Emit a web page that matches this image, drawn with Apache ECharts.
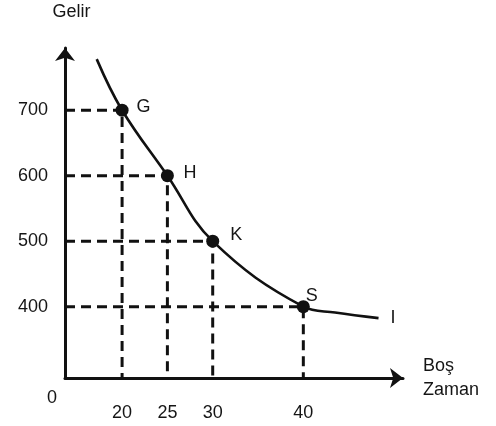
<!DOCTYPE html>
<html>
<head>
<meta charset="utf-8">
<style>
  html, body { margin: 0; padding: 0; background: #fff; }
  #chart { width: 496px; height: 426px; }
</style>
<script src="https://cdn.jsdelivr.net/npm/echarts@6/dist/echarts.min.js"></script>
</head>
<body>
<div id="chart"></div>
<script>
// ---- data ----
const xTickValues = [20, 25, 30, 40];
const yTickValues = [400, 500, 600, 700];
const pointNames = ['G', 'H', 'K', 'S'];
const pointX = [20, 25, 30, 40];
const pointY = [700, 600, 500, 400];
// indifference curve I
const curveX = [17.2, 20, 25, 30, 40, 43.5, 48.3];
const curveY = [778, 700, 600, 500, 400, 391, 382.5];
const curveName = 'I';
const xAxisName = 'Boş\nZaman';
const yAxisName = 'Gelir';
const originLabel = '0';

// ---- axis extents (schematic axes) ----
const X_MIN = 13.7, X_MAX = 51;
const Y_MIN = 291, Y_MAX = 795;

const FONT = 'Liberation Sans, Arial, Helvetica, sans-serif';
const INK = '#111';
const TEXT = '#151515';
const FS = 18;

const chart = echarts.init(document.getElementById('chart'), null, { renderer: 'canvas' });

// label placements relative to the marker box (style only)
const labelPlacements = [[22, -3], [23, -2], [24, -6], [9, -10]];

const guideSeries = pointX.map((x, i) => ({
  type: 'line',
  silent: true,
  symbol: 'none',
  z: 1,
  animation: false,
  lineStyle: { color: INK, width: 3, type: [10, 6] },
  data: [[X_MIN, pointY[i]], [x, pointY[i]], [x, Y_MIN]]
}));

const option = {
  animation: false,
  backgroundColor: '#fff',
  grid: { left: 65, right: 93, top: 48, bottom: 48, containLabel: false, outerBoundsMode: 'none' },
  xAxis: {
    type: 'value',
    min: X_MIN, max: X_MAX,
    name: xAxisName,
    nameLocation: 'end',
    nameGap: 20,
    nameTextStyle: { fontFamily: FONT, fontSize: FS, color: TEXT, lineHeight: 24, align: 'left', verticalAlign: 'middle', padding: [12, 0, 0, 0] },
    axisLine: { show: true, onZero: false, symbol: ['none', 'arrow'], symbolSize: [15, 13], lineStyle: { color: INK, width: 3 } },
    axisTick: { show: false },
    splitLine: { show: false },
    axisLabel: { customValues: xTickValues, margin: 26, fontFamily: FONT, fontSize: FS, color: TEXT }
  },
  yAxis: {
    type: 'value',
    min: Y_MIN, max: Y_MAX,
    name: yAxisName,
    nameLocation: 'end',
    nameGap: 27,
    nameTextStyle: { fontFamily: FONT, fontSize: FS, color: TEXT, align: 'center', padding: [0, 0, 0, 13] },
    axisLine: { show: true, onZero: false, symbol: ['none', 'arrow'], symbolSize: [15, 13], lineStyle: { color: INK, width: 3 } },
    axisTick: { show: false },
    splitLine: { show: false },
    axisLabel: { customValues: yTickValues, margin: 17, fontFamily: FONT, fontSize: FS, color: TEXT }
  },
  graphic: [{
    type: 'text',
    left: 47, top: 389,
    style: { text: originLabel, font: FS + 'px ' + FONT, fill: TEXT }
  }],
  series: [
    ...guideSeries,
    {
      type: 'line',
      name: curveName,
      z: 3,
      symbol: 'none',
      smooth: 0.4,
      lineStyle: { color: INK, width: 2.6 },
      data: curveX.map((x, i) => [x, curveY[i]]),
      endLabel: { show: true, formatter: curveName, distance: 12, fontFamily: FONT, fontSize: FS, color: TEXT }
    },
    {
      type: 'scatter',
      z: 4,
      symbol: 'circle',
      symbolSize: 13,
      itemStyle: { color: INK, opacity: 1 },
      label: { show: true, formatter: '{b}', fontFamily: FONT, fontSize: FS, color: TEXT, align: 'center', verticalAlign: 'middle' },
      data: pointX.map((x, i) => ({
        name: pointNames[i],
        value: [x, pointY[i]],
        label: { position: [6 + labelPlacements[i][0], 6 + labelPlacements[i][1]] }
      }))
    }
  ]
};

chart.setOption(option);
</script>
</body>
</html>
